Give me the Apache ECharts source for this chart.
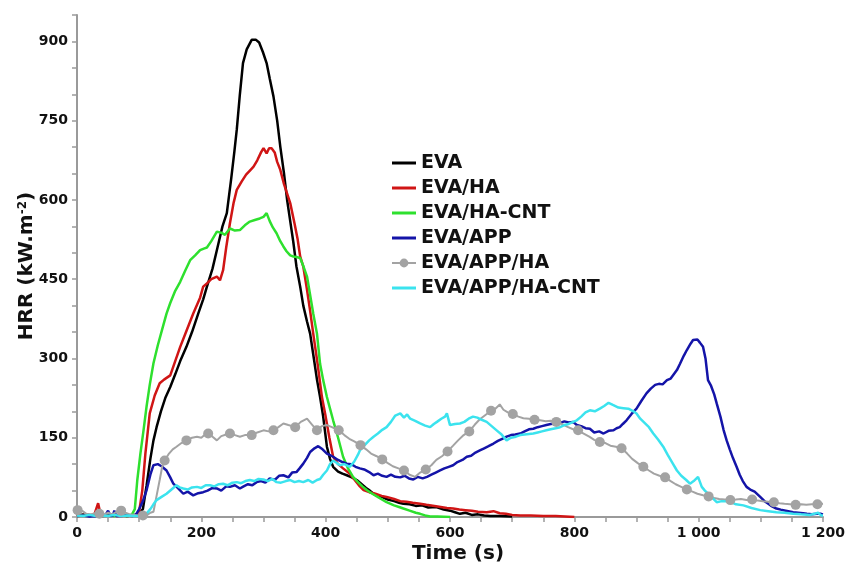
<!DOCTYPE html>
<html>
<head>
<meta charset="utf-8">
<script src="https://cdn.jsdelivr.net/npm/echarts@6/dist/echarts.min.js"></script>
<style>html,body{margin:0;padding:0;background:#fff}#c{width:848px;height:566px}</style>
</head>
<body>
<div id="c"></div>
<script>
const seriesNames = ['EVA', 'EVA/HA', 'EVA/HA-CNT', 'EVA/APP', 'EVA/APP/HA', 'EVA/APP/HA-CNT'];
const xTickLabels = [0, 200, 400, 600, 800, 1000, 1200];
const yTickLabels = [0, 150, 300, 450, 600, 750, 900];

const evaData = [[0,3],[10,5],[20,2],[30,4],[40,2],[50,6],[60,3],[70,4],[80,2],[90,3],[100,6],[106,15],[112,60],[118,110],[123,145],[128,170],[135,200],[142,225],[150,246],[158,270],[166,295],[176,322],[185,350],[195,385],[203,412],[209,436],[218,470],[226,510],[234,550],[241,575],[248,640],[253,690],[257,733],[262,800],[267,859],[273,885],[281,903],[288,903],[293,898],[299,880],[305,859],[310,830],[316,796],[322,750],[327,701],[333,650],[338,600],[343,560],[348,520],[353,474],[359,436],[364,400],[370,370],[375,347],[381,300],[386,260],[391,227],[396,190],[402,133],[407,110],[412,95],[420,86],[427,82],[434,79],[442,75],[450,70],[458,62],[465,55],[471,50],[477,44],[485,40],[492,37],[500,33],[510,30],[518,27],[525,25],[535,24],[545,21],[555,22],[565,18],[578,19],[590,14],[600,12],[608,9],[616,6],[625,8],[635,4],[645,5],[655,3],[665,2],[680,2],[700,1]];

const evaHaData = [[0,2],[10,4],[20,3],[28,5],[34,26],[38,4],[45,3],[55,5],[65,2],[75,4],[85,3],[95,4],[100,10],[105,50],[110,120],[117,196],[125,230],[133,253],[140,260],[150,268],[158,295],[166,322],[176,352],[187,385],[198,415],[203,436],[209,442],[216,450],[225,455],[230,448],[235,467],[240,510],[246,556],[252,595],[257,619],[265,635],[272,648],[280,658],[284,663],[290,675],[296,690],[300,698],[305,688],[309,698],[313,698],[318,690],[322,672],[327,657],[333,630],[338,612],[343,594],[350,555],[355,525],[359,493],[364,474],[370,430],[375,390],[380,347],[387,290],[394,227],[400,190],[406,150],[412,114],[420,100],[428,92],[439,82],[448,68],[455,58],[461,51],[470,47],[480,44],[490,40],[498,38],[510,34],[520,30],[530,29],[540,27],[552,25],[562,23],[575,21],[585,19],[595,17],[605,16],[615,14],[625,13],[635,12],[645,10],[659,9],[670,11],[680,7],[690,6],[700,4],[713,3],[730,3],[750,2],[770,2],[785,1],[800,0]];

const evaHaCntData = [[0,2],[10,3],[20,2],[30,3],[40,2],[50,3],[60,2],[70,3],[80,2],[88,4],[93,15],[97,70],[102,120],[107,164],[112,210],[117,250],[123,291],[130,325],[137,355],[144,385],[150,405],[158,428],[166,445],[174,466],[182,486],[190,495],[198,505],[204,508],[209,510],[216,522],[225,540],[232,538],[238,534],[246,546],[254,542],[262,543],[270,552],[278,559],[286,562],[294,565],[300,568],[305,575],[310,560],[315,548],[321,537],[327,522],[332,512],[337,503],[343,495],[348,493],[353,492],[359,490],[364,475],[370,455],[375,420],[380,385],[386,347],[391,290],[396,259],[402,227],[407,205],[412,183],[420,150],[428,114],[436,92],[444,76],[452,66],[459,58],[466,51],[475,44],[485,37],[498,28],[510,22],[518,19],[525,16],[535,12],[545,8],[552,6],[560,3],[568,1],[580,1],[600,0]];

const evaAppData = [[0,2],[10,3],[20,1],[30,2],[40,1],[46,4],[50,12],[54,2],[58,3],[60,12],[63,2],[70,2],[80,3],[90,2],[95,5],[100,15],[106,30],[112,51],[118,80],[123,98],[130,100],[136,96],[144,88],[150,75],[155,63],[162,55],[171,44],[178,48],[187,41],[195,45],[203,47],[210,50],[218,55],[225,54],[232,50],[240,58],[246,57],[254,60],[262,54],[268,58],[275,62],[282,60],[289,66],[296,68],[303,65],[310,73],[318,70],[325,78],[332,79],[340,75],[346,84],[353,85],[358,92],[364,101],[370,112],[375,123],[382,130],[388,134],[395,128],[402,120],[407,117],[412,114],[420,108],[427,104],[434,101],[441,100],[448,95],[455,92],[462,90],[470,85],[477,79],[484,82],[491,78],[498,76],[505,80],[512,76],[520,75],[527,78],[534,73],[541,71],[548,76],[556,73],[563,76],[570,80],[577,84],[584,88],[591,92],[598,95],[605,98],[612,104],[620,108],[627,114],[634,116],[641,122],[648,126],[655,130],[662,134],[670,139],[677,144],[684,148],[691,152],[698,155],[705,156],[713,158],[720,162],[727,166],[734,167],[741,170],[748,172],[755,174],[762,176],[770,177],[777,178],[784,181],[791,179],[798,180],[804,174],[811,172],[818,168],[825,167],[832,160],[840,162],[847,158],[855,163],[863,164],[868,168],[873,170],[878,176],[884,183],[892,195],[900,205],[908,220],[916,234],[923,243],[930,250],[936,252],[942,251],[949,259],[955,262],[960,270],[965,278],[970,290],[976,305],[981,316],[987,328],[991,335],[994,338],[998,336],[1002,330],[1007,322],[1011,300],[1015,259],[1020,248],[1025,232],[1029,215],[1035,190],[1040,165],[1045,145],[1050,128],[1055,112],[1061,95],[1066,80],[1071,68],[1077,57],[1083,52],[1090,48],[1099,38],[1106,30],[1112,25],[1118,20],[1125,16],[1132,14],[1140,12],[1148,10],[1152,9],[1160,8],[1168,7],[1174,6],[1182,5],[1190,6],[1196,6],[1200,5]];

const evaAppHaData = [[1,13],[8,12],[15,6],[22,5],[29,7],[36,6],[43,4],[50,8],[57,5],[64,10],[71,12],[78,8],[85,5],[92,4],[99,3],[106,3],[112,3],[118,8],[123,10],[128,40],[133,70],[137,95],[141,107],[148,120],[154,128],[160,133],[168,140],[176,145],[185,150],[193,152],[200,150],[205,155],[211,158],[218,152],[225,145],[232,153],[240,156],[246,158],[254,155],[262,152],[270,155],[281,155],[290,160],[300,164],[308,162],[316,164],[324,170],[332,177],[340,174],[351,170],[360,180],[370,186],[378,175],[386,164],[394,172],[402,174],[410,170],[421,164],[430,155],[438,148],[446,143],[456,136],[465,128],[473,120],[482,115],[491,109],[500,102],[508,96],[517,92],[526,88],[535,80],[544,76],[552,84],[561,90],[570,98],[578,108],[587,115],[596,124],[605,135],[613,145],[622,155],[631,162],[640,175],[648,185],[657,193],[666,201],[673,205],[680,213],[686,203],[693,198],[701,195],[710,190],[718,187],[727,186],[736,184],[745,183],[754,181],[762,182],[771,180],[780,176],[790,170],[798,166],[806,164],[815,158],[824,152],[832,146],[841,142],[850,140],[858,135],[867,133],[876,130],[885,120],[893,110],[902,102],[911,95],[920,88],[928,82],[937,78],[946,75],[955,68],[963,62],[972,57],[981,52],[990,48],[998,44],[1007,41],[1016,39],[1025,36],[1033,34],[1042,33],[1051,32],[1060,33],[1068,34],[1077,32],[1086,33],[1095,31],[1103,30],[1112,29],[1121,28],[1130,26],[1138,25],[1147,24],[1156,23],[1165,24],[1173,23],[1182,24],[1191,24],[1200,25]];
const evaAppHaMarkerTimes = [1,36,71,106,141,176,211,246,281,316,351,386,421,456,491,526,561,596,631,666,701,736,771,806,841,876,911,946,981,1016,1051,1086,1121,1156,1191];

const evaAppHaCntData = [[0,3],[10,2],[20,4],[30,2],[40,3],[50,2],[60,4],[70,2],[80,3],[90,2],[100,2],[106,3],[112,7],[118,15],[123,24],[128,32],[136,38],[144,44],[152,52],[160,60],[165,56],[171,54],[178,52],[185,56],[193,57],[200,55],[207,60],[214,60],[221,58],[228,62],[235,63],[242,60],[250,65],[257,66],[264,64],[271,68],[278,70],[285,68],[292,72],[300,71],[307,68],[314,72],[321,66],[328,65],[336,68],[343,70],[350,66],[357,68],[364,66],[372,70],[379,65],[386,70],[391,72],[396,80],[402,88],[407,100],[412,107],[418,102],[423,98],[430,100],[439,95],[446,105],[452,118],[455,126],[462,135],[470,145],[477,152],[484,158],[491,165],[498,170],[505,180],[512,192],[520,196],[526,188],[531,194],[536,186],[544,182],[552,177],[560,173],[568,170],[574,176],[579,180],[586,186],[592,190],[595,196],[600,174],[608,176],[616,177],[623,180],[630,186],[637,190],[644,188],[651,184],[659,180],[667,172],[675,164],[683,156],[691,145],[698,150],[706,152],[713,155],[720,156],[727,157],[734,158],[741,160],[748,162],[755,164],[762,166],[770,168],[777,170],[784,174],[791,176],[798,180],[804,183],[811,190],[818,198],[825,202],[833,200],[841,205],[848,210],[855,216],[862,212],[871,207],[879,206],[887,205],[895,200],[900,196],[906,186],[913,178],[920,170],[927,158],[935,146],[943,133],[950,118],[958,102],[965,88],[972,78],[980,70],[986,63],[992,68],[999,76],[1005,57],[1010,50],[1015,44],[1022,36],[1029,28],[1037,30],[1045,30],[1052,28],[1060,24],[1072,22],[1085,17],[1099,13],[1112,11],[1125,9],[1138,8],[1152,6],[1165,5],[1179,4],[1186,6],[1192,8],[1197,3],[1200,3]];

const FONT = 'DejaVu Sans';
const fmtThousands = v => String(v).replace(/\B(?=(\d{3})+(?!\d))/g, ' ');
const markerSet = new Set(evaAppHaMarkerTimes);

const chart = echarts.init(document.getElementById('c'), null, {renderer: 'canvas'});

function lineSeries(name, data, color, width) {
  return {
    name: name, type: 'line', data: data, symbol: 'none', showSymbol: false,
    smooth: false, animation: false,
    lineStyle: {color: color, width: width},
    itemStyle: {color: color},
    emphasis: {disabled: true}
  };
}

const grayColor = '#a3a3a3';
const series = [
  lineSeries(seriesNames[0], evaData, '#000000', 2.5),
  lineSeries(seriesNames[1], evaHaData, '#d01515', 2.5),
  lineSeries(seriesNames[2], evaHaCntData, '#2ee02e', 2.5),
  lineSeries(seriesNames[3], evaAppData, '#1414a8', 2.5),
  {
    name: seriesNames[4], type: 'line', data: evaAppHaData,
    symbol: 'circle', showSymbol: true, showAllSymbol: true,
    symbolSize: (v) => markerSet.has(v[0]) ? 10 : 0,
    animation: false,
    lineStyle: {color: grayColor, width: 2},
    itemStyle: {color: grayColor, borderWidth: 0},
    emphasis: {disabled: true}
  },
  lineSeries(seriesNames[5], evaAppHaCntData, '#3be3ee', 2.5)
];

const lineIcon = 'path://M0,0H24V3H0Z';
const legendData = seriesNames.map((n, i) => i === 4 ? {name: n} : {name: n, icon: lineIcon});

const axisGray = '#9a9a9a';
const option = {
  backgroundColor: '#ffffff',
  animation: false,
  grid: {left: 77, right: 25, top: 15, bottom: 49, containLabel: false, outerBoundsMode: 'none'},
  legend: {
    orient: 'vertical', left: 391, top: 153, padding: 0,
    itemWidth: 24, itemHeight: 11, itemGap: 5,
    data: legendData,
    textStyle: {fontFamily: FONT, fontSize: 19, fontWeight: 'bold', color: '#111', lineHeight: 20},
    selectedMode: false
  },
  xAxis: {
    type: 'value', min: 0, max: 1200, interval: 50,
    name: 'Time (s)', nameLocation: 'middle', nameGap: 27, nameMoveOverlap: false,
    nameTextStyle: {fontFamily: FONT, fontSize: 20, fontWeight: 'bold', color: '#111', padding: [0, 0, 0, 16]},
    axisLine: {show: true, lineStyle: {color: axisGray, width: 2}},
    axisTick: {show: true, length: 5, lineStyle: {color: axisGray, width: 1.5}},
    splitLine: {show: false},
    axisLabel: {
      fontFamily: FONT, fontSize: 14, fontWeight: 'bold', color: '#111', margin: 9,
      formatter: v => xTickLabels.includes(v) ? fmtThousands(v) : ''
    }
  },
  yAxis: {
    type: 'value', min: 0, max: 950, interval: 50,
    name: 'HRR (kW.m{sup|-2})', nameLocation: 'middle', nameGap: 40, nameRotate: 90, nameMoveOverlap: false,
    nameTextStyle: {
      fontFamily: FONT, fontSize: 20, fontWeight: 'bold', color: '#111',
      rich: {sup: {fontFamily: FONT, fontSize: 12, fontWeight: 'bold', color: '#111', verticalAlign: 'top', padding: [0, 0, 8, 0]}}
    },
    axisLine: {show: true, lineStyle: {color: axisGray, width: 2}},
    axisTick: {show: true, length: 5, lineStyle: {color: axisGray, width: 1.5}},
    splitLine: {show: false},
    axisLabel: {
      fontFamily: FONT, fontSize: 14, fontWeight: 'bold', color: '#111', margin: 9,
      formatter: v => yTickLabels.includes(v) ? String(v) : ''
    }
  },
  series: series
};
chart.setOption(option);
</script>
</body>
</html>
